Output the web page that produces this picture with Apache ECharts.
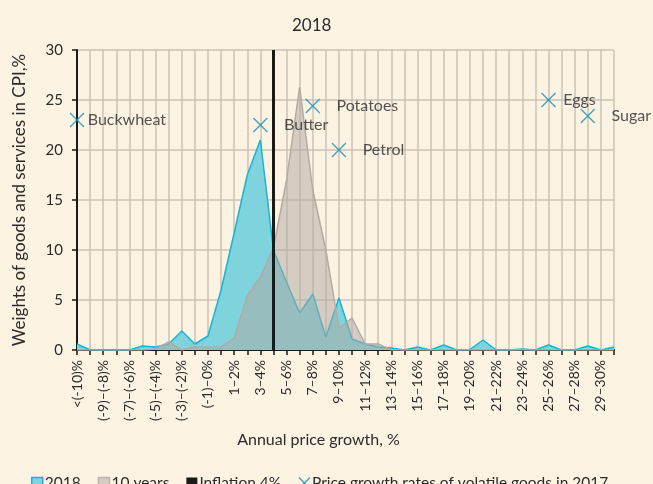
<!DOCTYPE html>
<html>
<head>
<meta charset="utf-8">
<script src="https://cdn.jsdelivr.net/npm/echarts@6/dist/echarts.min.js"></script>
<style>
  html, body { margin: 0; padding: 0; background: #fdf3e3; }
  #chart { width: 653px; height: 484px; }
</style>
</head>
<body>
<div id="chart"></div>
<script>
// price growth bins, 1% wide
var categories = ['<(-10)%', '(-10)–(-9)%', '(-9)–(-8)%', '(-8)–(-7)%', '(-7)–(-6)%', '(-6)–(-5)%',
  '(-5)–(-4)%', '(-4)–(-3)%', '(-3)–(-2)%', '(-2)–(-1)%', '(-1)–0%', '0–1%', '1–2%', '2–3%', '3–4%',
  '4–5%', '5–6%', '6–7%', '7–8%', '8–9%', '9–10%', '10–11%', '11–12%', '12–13%', '13–14%', '14–15%',
  '15–16%', '16–17%', '17–18%', '18–19%', '19–20%', '20–21%', '21–22%', '22–23%', '23–24%', '24–25%',
  '25–26%', '26–27%', '27–28%', '28–29%', '29–30%', '>30%'];

var weights2018 = [0.6, 0, 0, 0, 0, 0.4, 0.3, 0.6, 1.9, 0.6, 1.4, 6.0, 11.7, 17.5, 21.0, 10.0, 6.8, 3.7,
  5.6, 1.3, 5.2, 1.1, 0.6, 0.3, 0.2, 0, 0.3, 0, 0.5, 0, 0.05, 1.0, 0, 0, 0.1, 0, 0.5, 0, 0, 0.4, 0, 0.3];

var weights10y = [0, 0, 0, 0, 0, 0, 0.1, 0.8, 0, 0.3, 0.25, 0.3, 1.2, 5.4, 7.3, 10.2, 17.0, 26.3,
  16.0, 10.0, 2.2, 3.2, 0.6, 0.6, 0, 0, 0, 0, 0, 0, 0, 0, 0, 0, 0, 0, 0, 0, 0, 0, 0, 0];

var inflationBin = '4–5%';

// volatile goods, 2017 price growth
var goodsNames = ['Buckwheat', 'Butter', 'Potatoes', 'Petrol', 'Eggs', 'Sugar'];
var goodsBins = ['<(-10)%', '3–4%', '7–8%', '9–10%', '25–26%', '28–29%'];
var goodsWeights = [23.0, 22.5, 24.4, 20.0, 25.0, 23.4];

var labelGap = { Buckwheat: 3, Eggs: 7 };

var textColor = '#2b2b2b';
var gridColor = '#cbc2b6';
var crossPath = 'path://M0,0 L10,10 M10,0 L0,10';

var chart = echarts.init(document.getElementById('chart'));

var goodsData = [];
for (var i = 0; i < goodsNames.length; i++) {
  goodsData.push({
    name: goodsNames[i],
    value: [goodsBins[i], goodsWeights[i]],
    label: { distance: labelGap[goodsNames[i]] !== undefined ? labelGap[goodsNames[i]] : 16 }
  });
}

var option = {
  backgroundColor: '#fdf3e3',
  textStyle: { fontFamily: 'Lato', color: textColor },
  title: {
    text: '2018',
    left: 287,
    top: 12,
    textStyle: { fontFamily: 'Lato', fontSize: 17, fontWeight: 'normal', color: textColor }
  },
  legend: {
    left: 26,
    top: 470,
    itemWidth: 11,
    itemHeight: 11,
    itemGap: 17,
    textStyle: { fontFamily: 'Lato', fontSize: 15.5, color: textColor, padding: [0, 0, 0, -3] },
    data: [
      { name: '2018', icon: 'rect', itemStyle: { color: '#7ed3dc', borderColor: '#19b3d6', borderWidth: 1.5 } },
      { name: '10 years', icon: 'rect', itemStyle: { color: '#d6cdc2', borderColor: '#bdb4aa', borderWidth: 1.5 } },
      { name: 'Inflation 4%', icon: 'rect', itemStyle: { color: '#1a1a1a' } },
      { name: 'Price growth rates of volatile goods in 2017', icon: crossPath,
        itemStyle: { color: '#168fb5', borderColor: '#168fb5', borderWidth: 1.5 } }
    ]
  },
  grid: { left: 77, right: 39, top: 50, bottom: 134, containLabel: false },
  xAxis: {
    type: 'category',
    data: categories,
    boundaryGap: false,
    name: 'Annual price growth, %',
    nameLocation: 'middle',
    nameGap: 82,
    nameTextStyle: { fontFamily: 'Lato', fontSize: 16, color: textColor, padding: [0, 54, 0, 0] },
    axisLine: { lineStyle: { color: '#1a1a1a', width: 2 } },
    axisTick: { interval: 0, length: 5, lineStyle: { color: '#1a1a1a', width: 1.5 } },
    axisLabel: { interval: 1, rotate: 90, margin: 10, fontSize: 14, color: textColor },
    splitLine: { show: true, interval: 0, lineStyle: { color: gridColor, width: 1.5 } }
  },
  yAxis: {
    type: 'value',
    min: 0,
    max: 30,
    interval: 5,
    name: 'Weights of goods and services in CPI,%',
    nameLocation: 'middle',
    nameGap: 49,
    nameTextStyle: { fontFamily: 'Lato', fontSize: 17, color: textColor },
    axisLine: { show: true, lineStyle: { color: '#1a1a1a', width: 2 } },
    axisTick: { show: true, length: 5, lineStyle: { color: '#1a1a1a', width: 1.5 } },
    axisLabel: { margin: 14, fontSize: 15, color: textColor },
    splitLine: { show: true, lineStyle: { color: gridColor, width: 1.5 } }
  },
  series: [
    {
      name: '2018',
      type: 'line',
      data: weights2018,
      symbol: 'none',
      z: 2,
      lineStyle: { color: '#19b3d6', width: 1.5 },
      itemStyle: { color: '#7ed3dc' },
      areaStyle: { color: '#7ed3dc', opacity: 1 }
    },
    {
      name: '10 years',
      type: 'line',
      data: weights10y,
      symbol: 'none',
      z: 3,
      lineStyle: { color: '#b3aaa0', width: 1.5 },
      itemStyle: { color: '#d6cdc2' },
      areaStyle: { color: 'rgb(175,167,161)', opacity: 0.5 }
    },
    {
      name: 'Inflation 4%',
      type: 'line',
      data: [],
      z: 4,
      itemStyle: { color: '#1a1a1a' },
      markLine: {
        silent: true,
        symbol: 'none',
        label: { show: false },
        lineStyle: { color: '#1a1a1a', width: 3, type: 'solid' },
        data: [{ xAxis: inflationBin }]
      }
    },
    {
      name: 'Price growth rates of volatile goods in 2017',
      type: 'scatter',
      z: 5,
      symbol: crossPath,
      symbolSize: 14,
      itemStyle: { color: '#168fb5', borderColor: '#168fb5', borderWidth: 1.4 },
      label: {
        show: true,
        position: 'right',
        formatter: '{b}',
        fontFamily: 'Lato',
        fontSize: 16,
        color: textColor
      },
      data: goodsData
    }
  ]
};

chart.setOption(option);
</script>
</body>
</html>
